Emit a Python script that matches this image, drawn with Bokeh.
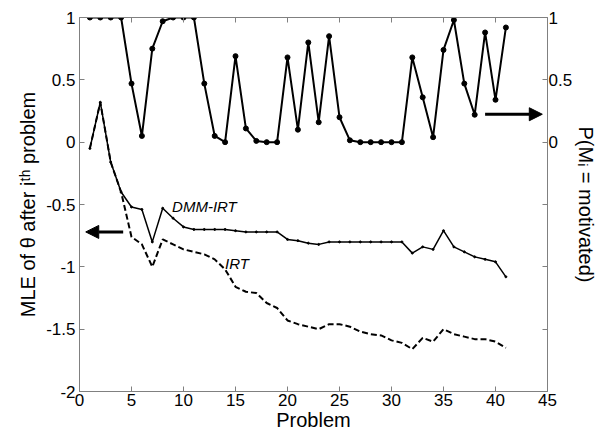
from bokeh.plotting import figure
from bokeh.models import (Range1d, LinearAxis, FixedTicker, CustomJSTickFormatter,
                          Arrow, NormalHead, Label)
from bokeh.embed import file_html
from bokeh.resources import INLINE

# ---------------- data ----------------
problems = list(range(1, 42))
p_motivated = [1, 1, 1, 1, 0.47, 0.05, 0.75, 0.97, 1, 1, 1, 0.47, 0.05, 0, 0.69, 0.11,
               0.01, 0, 0, 0.68, 0.10, 0.80, 0.16, 0.85, 0.20, 0.015, 0, 0, 0, 0, 0,
               0.68, 0.36, 0.04, 0.74, 0.98, 0.47, 0.22, 0.88, 0.34, 0.92]
dmm_irt = [-0.05, 0.32, -0.16, -0.40, -0.52, -0.54, -0.80, -0.53, -0.61, -0.68, -0.70,
           -0.70, -0.70, -0.70, -0.71, -0.72, -0.72, -0.72, -0.72, -0.78, -0.79, -0.81,
           -0.82, -0.80, -0.80, -0.80, -0.80, -0.80, -0.80, -0.80, -0.80, -0.89, -0.84,
           -0.86, -0.71, -0.84, -0.88, -0.92, -0.94, -0.96, -1.08]
irt = [-0.05, 0.32, -0.16, -0.40, -0.76, -0.82, -1.00, -0.78, -0.82, -0.86, -0.88,
       -0.90, -0.94, -1.02, -1.16, -1.20, -1.21, -1.29, -1.33, -1.43, -1.46, -1.48,
       -1.50, -1.46, -1.46, -1.48, -1.52, -1.54, -1.55, -1.59, -1.61, -1.66, -1.57,
       -1.60, -1.50, -1.54, -1.56, -1.58, -1.58, -1.60, -1.65]

x_ticks = [0, 5, 10, 15, 20, 25, 30, 35, 40, 45]
y_ticks = [-2, -1.5, -1, -0.5, 0, 0.5, 1]

FONT = "Liberation Sans"
AXIS_COLOR = "#808080"

p = figure(width=600, height=435, output_backend="svg", toolbar_location=None,
           x_range=Range1d(0, 45), y_range=Range1d(-2, 1),
           min_border_left=79, min_border_right=45, min_border_top=17, min_border_bottom=44)
p.outline_line_color = None
p.xgrid.visible = False
p.ygrid.visible = False
p.background_fill_color = "white"

fmt = CustomJSTickFormatter(code="return tick.toString();")
fmt_right = CustomJSTickFormatter(code="return tick >= 0 ? tick.toString() : '';")
fmt_none = CustomJSTickFormatter(code="return '';")


def style_axis(ax, ticks, formatter):
    ax.ticker = FixedTicker(ticks=ticks)
    ax.formatter = formatter
    ax.axis_line_color = AXIS_COLOR
    ax.major_tick_line_color = AXIS_COLOR
    ax.major_tick_in = 5
    ax.major_tick_out = 0
    ax.minor_tick_line_color = None
    ax.major_label_text_font = FONT
    ax.major_label_text_font_size = "17px"
    ax.major_label_text_color = "black"
    ax.axis_label_text_font = FONT
    ax.axis_label_text_font_size = "20px"
    ax.axis_label_text_font_style = "normal"
    ax.axis_label_text_color = "black"


xa = p.xaxis[0]
style_axis(xa, x_ticks, fmt)
xa.axis_label = "Problem"
xa.major_label_standoff = 2
xa.axis_label_standoff = 0

ya = p.yaxis[0]
style_axis(ya, y_ticks, fmt)
ya.axis_label = "MLE of θ after iᵗʰ problem"
ya.major_label_standoff = 4
ya.axis_label_standoff = 4

ra = LinearAxis()
style_axis(ra, y_ticks, fmt_right)
ra.axis_label = "P(Mᵢ = motivated)"
ra.major_label_standoff = 1
ra.axis_label_standoff = 0
p.add_layout(ra, "right")

ta = LinearAxis()
style_axis(ta, x_ticks, fmt_none)
ta.major_label_text_font_size = "0px"
ta.major_label_standoff = 0
p.add_layout(ta, "above")

# ---------------- series ----------------
p.line(problems, irt, line_color="black", line_width=2, line_dash="6 3")
p.line(problems, dmm_irt, line_color="black", line_width=1.5)
p.scatter(problems, dmm_irt, size=2, color="black")
p.line(problems, p_motivated, line_color="black", line_width=2)
p.scatter(problems, p_motivated, size=5, color="black")

# ---------------- annotations ----------------
p.add_layout(Arrow(end=NormalHead(size=13, fill_color="black", line_color="black"),
                   x_start=4.2, y_start=-0.72, x_end=0.6, y_end=-0.72,
                   line_width=3, line_color="black"))
p.add_layout(Arrow(end=NormalHead(size=13, fill_color="black", line_color="black"),
                   x_start=39.0, y_start=0.224, x_end=44.5, y_end=0.224,
                   line_width=3, line_color="black"))
p.add_layout(Label(x=8.9, y=-0.52, text="DMM-IRT", text_font=FONT, text_font_size="15px",
                   text_font_style="italic", text_baseline="middle", text_color="black"))
p.add_layout(Label(x=14.0, y=-0.97, text="IRT", text_font=FONT, text_font_size="15px",
                   text_font_style="italic", text_baseline="middle", text_color="black"))

open("out.html", "w").write(file_html(p, INLINE))
